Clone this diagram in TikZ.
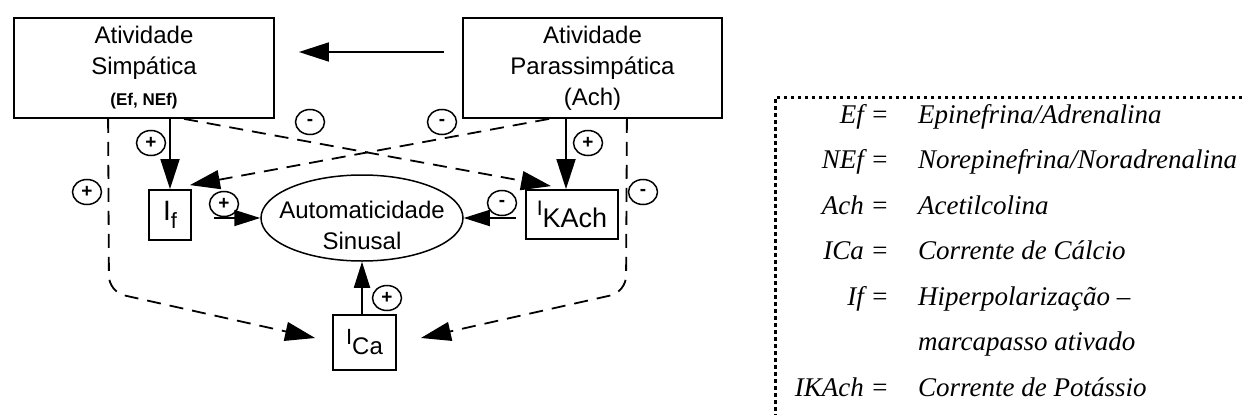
\documentclass[tikz,border=0pt]{standalone}
\usepackage{fontspec}
\setmainfont{Liberation Sans}
\newfontfamily\legfont{Liberation Serif}
\usetikzlibrary{arrows.meta,shapes.geometric,calc}
\begin{document}
\begin{tikzpicture}[x=1pt,y=-1pt,
  box/.style={draw,line width=1.8pt,inner sep=0pt},
  tipb/.style={-{Triangle[length=30pt,width=19pt]}},
  tips/.style={-{Triangle[length=26pt,width=16pt]}},
  solidc/.style={line width=1.8pt},
  dsh/.style={line width=1.8pt,dash pattern=on 14pt off 9pt},
  sgn/.style={draw,ellipse,line width=1.5pt,minimum width=29pt,minimum height=25pt,inner sep=0pt,font=\fontsize{19}{19}\selectfont\bfseries},
  lbl/.style={font=\fontsize{24}{31}\selectfont,align=center},
  term/.style={anchor=base east,inner sep=0pt,font=\legfont\itshape\fontsize{27}{27}\selectfont},
  defn/.style={anchor=base west,inner sep=0pt,font=\legfont\itshape\fontsize{27}{27}\selectfont}]
\useasboundingbox (0,0) rectangle (1242,415);
\fill[white] (0,0) rectangle (1242,415);

% main boxes
\node[box,lbl,minimum width=260pt,minimum height=100pt] (simp) at (144,68)
  {Atividade\\Simpática\\{\fontsize{17}{31}\selectfont\bfseries (Ef, NEf)}};
\node[box,lbl,minimum width=259pt,minimum height=100pt] (para) at (592.5,68)
  {Atividade\\Parassimpática\\(Ach)};

% current boxes
\node[box,minimum width=42pt,minimum height=50pt] (nif) at (170,215)
  {\fontsize{28}{28}\selectfont I\raisebox{-8pt}{\fontsize{22}{22}\selectfont f}};
\node[box,minimum width=92pt,minimum height=49pt] (nka) at (572,214.5)
  {\raisebox{12pt}{\fontsize{21}{21}\selectfont I}\fontsize{27}{27}\selectfont KAch};
\node[box,minimum width=63pt,minimum height=55pt] (nca) at (364.5,342.5)
  {\raisebox{10pt}{\fontsize{22}{22}\selectfont I}\fontsize{24}{24}\selectfont Ca};

% ellipse
\node[draw,ellipse,line width=1.5pt,minimum width=202pt,minimum height=86pt,inner sep=0pt] (auto) at (362,218) {};
\node[lbl] (autot1) at (362,210) {Automaticidade};
\node[lbl] (autot2) at (362,241) {Sinusal};

% signs
\node[sgn] (p1) at (151,143) {+};
\node[sgn] (p2) at (87,192) {+};
\node[sgn] (m1) at (310,122) {-};
\node[sgn] (m2) at (442,122) {-};
\node[sgn] (p3) at (588,143) {+};
\node[sgn] (m3) at (643,192) {-};
\node[sgn] (p4) at (224,204) {+};
\node[sgn] (m4) at (502,203) {-};
\node[sgn] (p5) at (387,298) {+};

% solid arrows
\draw[solidc,tipb] ([xshift=-18pt,yshift=16pt]para.west) -- ([xshift=24pt,yshift=16pt]simp.east);
\draw[solidc,tipb] (simp.south -| nif.north) -- (nif.north);
\coordinate (katop) at ($(nka.north)+(-6,0)$);
\draw[solidc,tipb] (para.south -| katop) -- (katop);
\coordinate (ifout) at ($(nif.east)+(22,3)$);
\coordinate (kout) at ($(nka.west)+(-9,3.5)$);
\draw[solidc,tips] (ifout) -- (auto.west);
\draw[solidc,tips] (kout) -- (auto.east);
\draw[solidc,tips] (nca.north -| auto.south) -- (auto.south);

% dashed arrows
\draw[dsh,tipb] ($(simp.south west)+(171,0)$) -- ($(nka.north west)+(26,-3)$);
\draw[dsh,tipb] ($(para.south west)+(87,0)$) -- ($(nif.north east)+(-2,-4)$);
\draw[dsh,tipb,rounded corners=16pt] ($(simp.south west)+(95,0)$) -- (109,292) -- ($(nca.west)+(-17,-4.5)$);
\draw[dsh,tipb,rounded corners=16pt] ($(para.south east)+(-96,0)$) -- (626,292) -- ($(nca.east)+(24,-4.5)$);

% legend
\draw[line width=3pt,dash pattern=on 3.5pt off 3.5pt] (1242,97) -- (775,97) -- (775,415);
\node[term] (t1) at (889,123) {Ef =};
\node[defn] (d1) at (918,123) {Epinefrina/Adrenalina};
\node[term] (t2) at (889,168.5) {NEf =};
\node[defn] (d2) at (918,168.5) {Norepinefrina/Noradrenalina};
\node[term] (t3) at (889,214) {Ach =};
\node[defn] (d3) at (918,214) {Acetilcolina};
\node[term] (t4) at (889,259.5) {ICa =};
\node[defn] (d4) at (918,259.5) {Corrente de Cálcio};
\node[term] (t5) at (889,305) {If =};
\node[defn] (d5) at (918,305) {Hiperpolarização –};
\node[defn] (d6) at (918,350.5) {marcapasso ativado};
\node[term] (t7) at (889,396) {IKAch =};
\node[defn] (d7) at (918,396) {Corrente de Potássio};
\end{tikzpicture}
\end{document}
